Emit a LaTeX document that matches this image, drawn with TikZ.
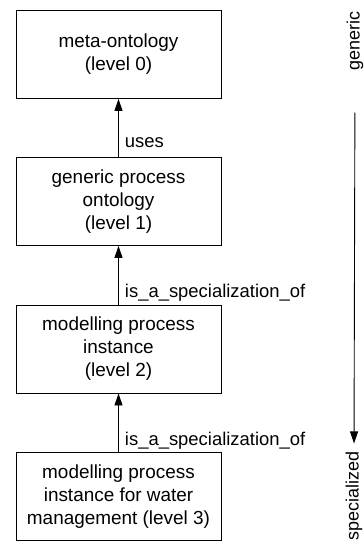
\documentclass[tikz,border=0pt]{standalone}
\usepackage{fontspec}
\setmainfont{Liberation Sans}
\usetikzlibrary{arrows.meta}
\usetikzlibrary{positioning}

\tikzset{
	levelbox/.style={draw, line width=0.9bp, minimum width=205bp, minimum height=88bp,
		align=center, inner sep=0pt, font=\fontsize{19}{23}\selectfont},
	rellabel/.style={right=6bp, inner sep=0pt, font=\fontsize{18.5}{22}\selectfont},
	sidelabel/.style={rotate=90, inner sep=0pt, font=\fontsize{18}{22}\selectfont},
}

\begin{document}
\begin{tikzpicture}[x=1bp, y=-1bp]
	\useasboundingbox (0,0) rectangle (363,545);

	\node[levelbox] (L0) at (118.5,54.5) {meta-ontology\\(level 0)};
	\node[levelbox] (L1) at (118.5,201.5) {generic process\\ontology\\(level 1)};
	\node[levelbox] (L2) at (118.5,349) {modelling process\\instance\\(level 2)};
	\node[levelbox] (L3) at (118.5,496.5) {modelling process\\instance for water\\management (level 3)};

	\draw[line width=0.9bp, -{Triangle[length=12bp,width=8bp]}] (L1) -- (L0) node[pos=.25, rellabel] {uses};
	\draw[line width=0.9bp, -{Triangle[length=12bp,width=8bp]}] (L2) -- (L1) node[pos=.2, rellabel] {is\_a\_specialization\_of};
	\draw[line width=0.9bp, -{Triangle[length=12bp,width=8bp]}] (L3) -- (L2) node[pos=.2, rellabel] {is\_a\_specialization\_of};

	% generic -> specialized
	\node[sidelabel] (gen) at (355,41) {generic};
	\node[sidelabel] (spec) at (354,496) {specialized};
	\draw[line width=0.9bp, -{Triangle[length=12bp,width=8bp]}, shorten <=42bp, shorten >=8bp] (gen.west) -- (spec.east);
\end{tikzpicture}
\end{document}
